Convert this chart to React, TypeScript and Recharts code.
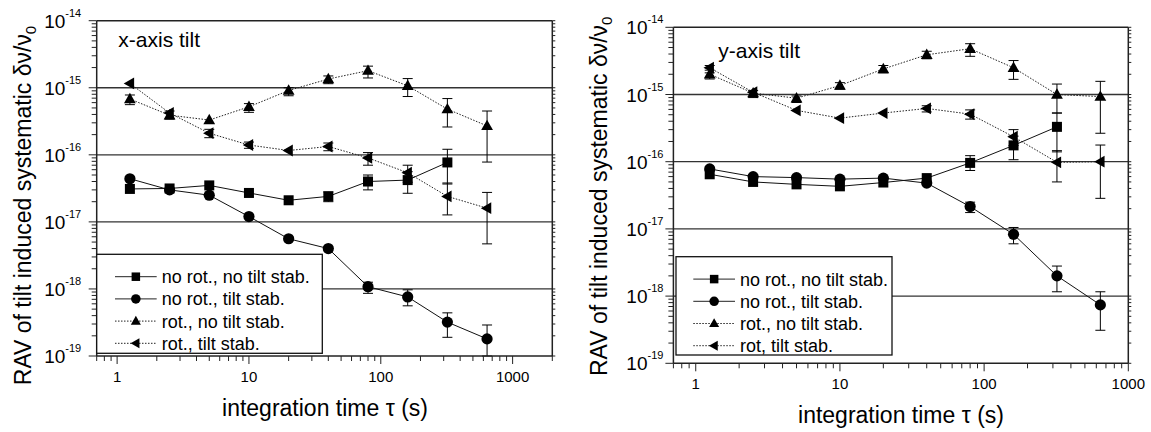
import React from 'react';
import { LineChart, Line, XAxis, YAxis, ErrorBar, ReferenceLine } from 'recharts';

const FONT = '"Liberation Sans", Arial, Helvetica, sans-serif';

// integration times (s)
const TAU = [1.25, 2.5, 5, 10, 20, 40, 80, 160, 320, 640];

type Bounds = [number, number] | null;

// x-axis tilt panel
const xSqVal = [3.1e-17, 3.15e-17, 3.5e-17, 2.7e-17, 2.1e-17, 2.4e-17, 4.0e-17, 4.2e-17, 7.7e-17];
const xSqErr: Bounds[] = [null, null, null, null, null, [2.0e-17, 2.8e-17], [3.0e-17, 5.0e-17], [2.67e-17, 5.6e-17], [3.67e-17, 1.21e-16]];
const xCircVal = [4.4e-17, 3.0e-17, 2.5e-17, 1.2e-17, 5.6e-18, 4.0e-18, 1.08e-18, 7.6e-19, 3.2e-19, 1.8e-19];
const xCircErr: Bounds[] = [null, null, null, null, null, null, [8.6e-19, 1.26e-18], [5.6e-19, 9.7e-19], [1.9e-19, 4.4e-19], [1.0e-19, 2.9e-19]];
const xTriVal = [6.8e-16, 3.9e-16, 3.3e-16, 5.2e-16, 9.1e-16, 1.35e-15, 1.8e-15, 1.07e-15, 4.8e-16, 2.7e-16];
const xTriErr: Bounds[] = [[5.6e-16, 7.8e-16], [3.4e-16, 4.5e-16], null, [4.3e-16, 5.8e-16], [7.6e-16, 1.0e-15], [1.15e-15, 1.5e-15], [1.4e-15, 2.1e-15], [7.4e-16, 1.37e-15], [2.6e-16, 6.9e-16], [7.8e-17, 4.5e-16]];
const xLtriVal = [1.16e-15, 4.2e-16, 2.1e-16, 1.4e-16, 1.16e-16, 1.33e-16, 9.0e-17, 5.4e-17, 2.4e-17, 1.6e-17];
const xLtriErr: Bounds[] = [null, null, [1.8e-16, 2.4e-16], [1.25e-16, 1.55e-16], null, [1.15e-16, 1.5e-16], [7.0e-17, 1.08e-16], [3.9e-17, 7.0e-17], [1.27e-17, 3.8e-17], [4.7e-18, 2.75e-17]];

// y-axis tilt panel
const ySqVal = [6.5e-17, 5.0e-17, 4.6e-17, 4.3e-17, 4.9e-17, 5.7e-17, 9.6e-17, 1.75e-16, 3.3e-16];
const ySqErr: Bounds[] = [null, null, null, null, null, null, [7.4e-17, 1.23e-16], [1.07e-16, 2.4e-16], [1.4e-16, 5.3e-16]];
const yCircVal = [7.8e-17, 6.0e-17, 5.8e-17, 5.5e-17, 5.7e-17, 4.8e-17, 2.15e-17, 8.3e-18, 2.0e-18, 7.4e-19];
const yCircErr: Bounds[] = [null, null, null, null, null, null, [1.75e-17, 2.5e-17], [6.0e-18, 1.05e-17], [1.16e-18, 2.8e-18], [3.1e-19, 1.16e-18]];
const yTriVal = [2.0e-15, 1.05e-15, 8.8e-16, 1.36e-15, 2.4e-15, 3.9e-15, 4.8e-15, 2.5e-15, 1.0e-15, 9.3e-16];
const yTriErr: Bounds[] = [[1.7e-15, 2.3e-15], [9.0e-16, 1.15e-15], [7.6e-16, 9.5e-16], [1.2e-15, 1.5e-15], [2.1e-15, 2.7e-15], [3.4e-15, 4.4e-15], [3.7e-15, 5.7e-15], [1.68e-15, 3.2e-15], [5.3e-16, 1.43e-15], [2.65e-16, 1.57e-15]];
const yLtriVal = [2.5e-15, 1.08e-15, 5.8e-16, 4.45e-16, 5.3e-16, 6.2e-16, 5.1e-16, 2.35e-16, 9.8e-17, 1.0e-16];
const yLtriErr: Bounds[] = [[2.1e-15, 2.7e-15], null, null, null, null, [5.5e-16, 6.8e-16], [4.3e-16, 5.9e-16], [1.74e-16, 3.0e-16], [5.0e-17, 1.46e-16], [2.85e-17, 1.77e-16]];

const LEGEND_X = ['no rot., no tilt stab.', 'no rot., tilt stab.', 'rot., no tilt stab.', 'rot., tilt stab.'];
const LEGEND_Y = ['no rot., no tilt stab.', 'no rot., tilt stab.', 'rot., no tilt stab.', 'rot, tilt stab.'];
const SHAPES = ['square', 'circle', 'triangle', 'left'];
const DASHED = [false, false, true, true];

const REF_LINES = [1e-15, 1e-16, 1e-17, 1e-18];
const Y_DOMAIN: [number, number] = [1e-19, 1e-14];
const MANT = [1, 2, 3, 4, 5, 6, 7, 8, 9];
const Y_TICKS = [-19, -18, -17, -16, -15].flatMap((e) => MANT.map((m) => m * Math.pow(10, e))).concat([1e-14]);
const X_TICKS_BASE = [0.7, 0.8, 0.9].concat([0, 1, 2].flatMap((e) => MANT.map((m) => m * Math.pow(10, e))));
const X_TICKS_L = X_TICKS_BASE.concat([1000, 2000]);
const X_TICKS_R = X_TICKS_BASE.concat([1000]);

const isDecade = (v: number) => Math.abs(Math.log10(v) - Math.round(Math.log10(v))) < 1e-6;

function rows(vals: number[], err: Bounds[]) {
  return vals.map((v, i) => ({
    tau: TAU[i],
    v,
    err: err[i] ? [v - err[i]![0], err[i]![1] - v] : undefined,
  }));
}

function Marker({ shape, cx, cy, s = 1 }: { shape: string; cx: number; cy: number; s?: number }) {
  if (shape === 'square') return <rect x={cx - 5 * s} y={cy - 5 * s} width={10 * s} height={10 * s} fill="#000" />;
  if (shape === 'circle') return <circle cx={cx} cy={cy} r={5.6 * s} fill="#000" />;
  if (shape === 'triangle')
    return <polygon points={`${cx},${cy - 6.2 * s} ${cx + 5.9 * s},${cy + 4.2 * s} ${cx - 5.9 * s},${cy + 4.2 * s}`} fill="#000" />;
  return <polygon points={`${cx - 6.2 * s},${cy} ${cx + 4.2 * s},${cy - 5.9 * s} ${cx + 4.2 * s},${cy + 5.9 * s}`} fill="#000" />;
}

const dotFor = (shape: string) => (p: any) => {
  if (p.cx == null || p.cy == null) return <g key={p.index} />;
  return (
    <g key={`${shape}-${p.index}`}>
      <Marker shape={shape} cx={p.cx} cy={p.cy} />
    </g>
  );
};

const BottomTick = (props: any) => {
  const { x, y, payload } = props;
  const major = isDecade(payload.value);
  return (
    <g>
      <line x1={x} x2={x} y1={y} y2={y + (major ? 8 : 5)} stroke="#222" strokeWidth={1} />
      {major && (
        <text x={x} y={y + 26} textAnchor="middle" fontSize={15} fontFamily={FONT} fill="#000">
          {String(Math.round(payload.value))}
        </text>
      )}
    </g>
  );
};

const TopTick = (props: any) => {
  const { x, y } = props;
  return <line x1={x} x2={x} y1={y} y2={y - 3} stroke="#222" strokeWidth={1} />;
};

const LeftTick = (props: any) => {
  const { x, y, payload, gap } = props;
  const major = isDecade(payload.value);
  const exp = Math.round(Math.log10(payload.value));
  return (
    <g>
      <line x1={x} x2={x - (major ? 8 : 5)} y1={y} y2={y} stroke="#222" strokeWidth={1} />
      {major && (
        <text x={x - gap} y={y + 7} textAnchor="end" fontSize={19} fontFamily={FONT} fill="#000">
          10
          <tspan fontSize={11} dy={-11}>{String(exp)}</tspan>
        </text>
      )}
    </g>
  );
};

const RightTick = (props: any) => {
  const { x, y } = props;
  return <line x1={x} x2={x + 3} y1={y} y2={y} stroke="#222" strokeWidth={1} />;
};

interface Series {
  data: ReturnType<typeof rows>;
  shape: string;
  dashed: boolean;
}

function Panel({
  width,
  margin,
  xDomain,
  xTicks,
  series,
  gap,
}: {
  width: number;
  margin: { top: number; right: number; bottom: number; left: number };
  xDomain: [number, number];
  xTicks: number[];
  series: Series[];
  gap: number;
}) {
  const axisLine = { stroke: '#222', strokeWidth: 1.5 };
  return (
    <LineChart width={width} height={432} margin={margin}>
      <XAxis
        xAxisId="b"
        dataKey="tau"
        type="number"
        scale="log"
        domain={xDomain}
        allowDataOverflow
        ticks={xTicks}
        interval={0}
        tickLine={false}
        tickSize={0}
        tickMargin={0}
        axisLine={axisLine}
        tick={<BottomTick />}
        height={30}
      />
      <XAxis
        xAxisId="t"
        orientation="top"
        type="number"
        scale="log"
        domain={xDomain}
        allowDataOverflow
        ticks={xTicks}
        interval={0}
        tickLine={false}
        tickSize={0}
        tickMargin={0}
        axisLine={axisLine}
        tick={<TopTick />}
        height={10}
      />
      <YAxis
        yAxisId="l"
        type="number"
        scale="log"
        domain={Y_DOMAIN}
        allowDataOverflow
        ticks={Y_TICKS}
        interval={0}
        tickLine={false}
        tickSize={0}
        tickMargin={0}
        axisLine={axisLine}
        tick={<LeftTick gap={gap} />}
        width={60}
      />
      <YAxis
        yAxisId="r"
        orientation="right"
        type="number"
        scale="log"
        domain={Y_DOMAIN}
        allowDataOverflow
        ticks={Y_TICKS}
        interval={0}
        tickLine={false}
        tickSize={0}
        tickMargin={0}
        axisLine={axisLine}
        tick={<RightTick />}
        width={10}
      />
      {REF_LINES.map((r) => (
        <ReferenceLine key={r} y={r} xAxisId="b" yAxisId="l" stroke="#333" strokeWidth={1.3} />
      ))}
      {series.map((s, i) => (
        <Line
          key={i}
          xAxisId="b"
          yAxisId="l"
          data={s.data}
          dataKey="v"
          stroke={s.dashed ? '#222' : '#111'}
          strokeWidth={1}
          strokeDasharray={s.dashed ? '1.5 1.5' : undefined}
          dot={dotFor(s.shape)}
          activeDot={false}
          isAnimationActive={false}
        >
          <ErrorBar dataKey="err" width={5} stroke="#000" strokeWidth={1} direction="y" isAnimationActive={false} />
        </Line>
      ))}
    </LineChart>
  );
}

function LegendBox({ x, y, w, h, labels, lineX, lineW }: { x: number; y: number; w: number; h: number; labels: string[]; lineX: number; lineW: number }) {
  return (
    <g>
      <rect x={x} y={y} width={w} height={h} fill="#fff" stroke="#111" strokeWidth={1.3} />
      {labels.map((lab, i) => {
        const cy = y + 22.4 + i * 22.2;
        return (
          <g key={lab}>
            <line
              x1={x + lineX}
              x2={x + lineX + lineW}
              y1={cy}
              y2={cy}
              stroke="#222"
              strokeWidth={1}
              strokeDasharray={DASHED[i] ? '1.5 1.5' : undefined}
            />
            <Marker shape={SHAPES[i]} cx={x + lineX + lineW / 2} cy={cy} s={0.85} />
            <text x={x + lineX + lineW + 5} y={cy + 6.5} fontSize={18} fontFamily={FONT} fill="#000">
              {lab}
            </text>
          </g>
        );
      })}
    </g>
  );
}

export default function App() {
  const xSeries: Series[] = [
    { data: rows(xSqVal, xSqErr), shape: SHAPES[0], dashed: DASHED[0] },
    { data: rows(xCircVal, xCircErr), shape: SHAPES[1], dashed: DASHED[1] },
    { data: rows(xTriVal, xTriErr), shape: SHAPES[2], dashed: DASHED[2] },
    { data: rows(xLtriVal, xLtriErr), shape: SHAPES[3], dashed: DASHED[3] },
  ];
  const ySeries: Series[] = [
    { data: rows(ySqVal, ySqErr), shape: SHAPES[0], dashed: DASHED[0] },
    { data: rows(yCircVal, yCircErr), shape: SHAPES[1], dashed: DASHED[1] },
    { data: rows(yTriVal, yTriErr), shape: SHAPES[2], dashed: DASHED[2] },
    { data: rows(yLtriVal, yLtriErr), shape: SHAPES[3], dashed: DASHED[3] },
  ];

  return (
    <div style={{ position: 'absolute', left: 0, top: 0, width: 1151, height: 432, background: '#fff', overflow: 'hidden' }}>
      <div style={{ position: 'absolute', left: 0, top: 0 }}>
        <Panel
          width={575}
          margin={{ top: 10.7, right: 12.7, bottom: 46, left: 36.7 }}
          xDomain={[0.7, 2000]}
          xTicks={X_TICKS_L}
          series={xSeries}
          gap={15.5}
        />
      </div>
      <div style={{ position: 'absolute', left: 575, top: 0 }}>
        <Panel
          width={576}
          margin={{ top: 17.3, right: 12.7, bottom: 38.7, left: 38.4 }}
          xDomain={[0.7, 1000]}
          xTicks={X_TICKS_R}
          series={ySeries}
          gap={10}
        />
      </div>
      <svg width={1151} height={432} style={{ position: 'absolute', left: 0, top: 0, pointerEvents: 'none' }}>
        <LegendBox x={96.7} y={254.3} w={225.6} h={99} labels={LEGEND_X} lineX={18.3} lineW={41.7} />
        <LegendBox x={676} y={256.7} w={216} h={98.3} labels={LEGEND_Y} lineX={17.3} lineW={41.7} />

        <text x={118.3} y={46.7} fontSize={21} fontFamily={FONT} fill="#000">x-axis tilt</text>
        <text x={718.3} y={58.3} fontSize={21} fontFamily={FONT} fill="#000">y-axis tilt</text>

        <text x={325} y={416} textAnchor="middle" fontSize={23} fontFamily={FONT} fill="#000">
          integration time τ (s)
        </text>
        <text x={901} y={423} textAnchor="middle" fontSize={23} fontFamily={FONT} fill="#000">
          integration time τ (s)
        </text>

        <text transform="translate(31,205.5) rotate(-90)" textAnchor="middle" fontSize={23} fontFamily={FONT} fill="#000">
          RAV of tilt induced systematic δν/ν
          <tspan fontSize={15} dy={5}>0</tspan>
        </text>
        <text transform="translate(607,196.3) rotate(-90)" textAnchor="middle" fontSize={23} fontFamily={FONT} fill="#000">
          RAV of tilt induced systematic δν/ν
          <tspan fontSize={15} dy={5}>0</tspan>
        </text>
      </svg>
    </div>
  );
}
